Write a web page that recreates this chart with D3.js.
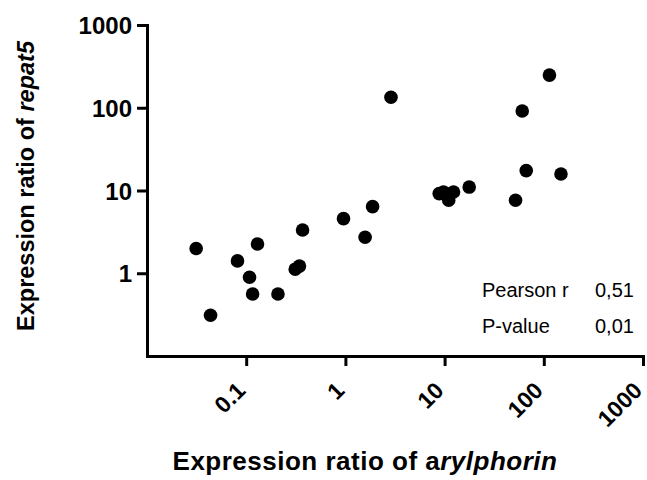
<!DOCTYPE html>
<html>
<head>
<meta charset="utf-8">
<script src="https://cdn.jsdelivr.net/npm/d3@7"></script>
<style>
  body { margin: 0; background: #fff; }
  svg { display: block; font-family: "Liberation Sans", Arial, sans-serif; }
</style>
</head>
<body>
<svg id="s" width="647" height="480"></svg>
<script>
// arylphorin vs repat5 expression ratios
var arylphorin = [0.0313, 0.0437, 0.0817, 0.108, 0.116, 0.130, 0.209, 0.312, 0.344, 0.37,
                  0.957, 1.58, 1.88, 2.88, 8.83, 9.75, 11.0, 12.3, 17.7, 51.9, 60.6, 66.5, 114, 149];
var repat5 = [1.99, 0.311, 1.41, 0.895, 0.562, 2.26, 0.562, 1.12, 1.22, 3.33,
              4.57, 2.72, 6.38, 134, 9.17, 9.6, 7.62, 9.6, 11.0, 7.62, 91.3, 17.4, 248, 15.8];
var xTicks = [0.1, 1, 10, 100, 1000];
var yTicks = [1, 10, 100, 1000];
var stats = [["Pearson r", "0,51"], ["P-value", "0,01"]];

var svg = d3.select("#s");

var x = d3.scaleLog().domain([0.01, 1000]).range([147, 643]);
var y = d3.scaleLog().domain([0.1, 1000]).range([356, 25]);

var fmt = function (d) { return String(d); };

// axes
var gx = svg.append("g").attr("transform", "translate(0,356)")
  .call(d3.axisBottom(x).tickValues(xTicks).tickFormat(fmt).tickSize(10).tickSizeOuter(0));
var gy = svg.append("g").attr("transform", "translate(147,0)")
  .call(d3.axisLeft(y).tickValues(yTicks).tickFormat(fmt).tickSize(10).tickSizeOuter(0));

[gx, gy].forEach(function (g) {
  g.select(".domain").attr("stroke", "#000").attr("stroke-width", 3).attr("stroke-linecap", "square");
  g.selectAll(".tick line").attr("stroke", "#000").attr("stroke-width", 3);
  g.selectAll(".tick text").attr("fill", "#000").attr("font-weight", "bold")
    .attr("font-family", "Liberation Sans, Arial, sans-serif");
});

gy.selectAll(".tick text").attr("font-size", 24).attr("x", -15).attr("dy", "0.36em");

gx.selectAll(".tick text")
  .attr("font-size", 23)
  .attr("text-anchor", "end")
  .attr("x", null).attr("y", null).attr("dy", null)
  .attr("transform", "translate(0,36) rotate(-45)");

// points
svg.append("g").selectAll("circle")
  .data(arylphorin)
  .join("circle")
  .attr("cx", function (d) { return x(d); })
  .attr("cy", function (d, i) { return y(repat5[i]); })
  .attr("r", 6.8)
  .attr("fill", "#000");

// stats box
var st = svg.append("g").attr("font-size", 20).attr("fill", "#000");
stats.forEach(function (r, i) {
  st.append("text").attr("x", 482).attr("y", 297 + i * 36).text(r[0]);
  st.append("text").attr("x", 595).attr("y", 297 + i * 36).text(r[1]);
});

// axis titles
var xt = svg.append("text")
  .attr("x", 365).attr("y", 470)
  .attr("text-anchor", "middle")
  .attr("font-size", 26).attr("font-weight", "bold")
  .attr("letter-spacing", 0.5);
xt.append("tspan").text("Expression ratio of a");
xt.append("tspan").attr("font-style", "italic").text("rylphorin");

var yt = svg.append("text")
  .attr("transform", "translate(34,186) rotate(-90)")
  .attr("text-anchor", "middle")
  .attr("font-size", 23.5).attr("font-weight", "bold");
yt.append("tspan").text("Expression ratio of ");
yt.append("tspan").attr("font-style", "italic").text("repat5");
</script>
</body>
</html>
